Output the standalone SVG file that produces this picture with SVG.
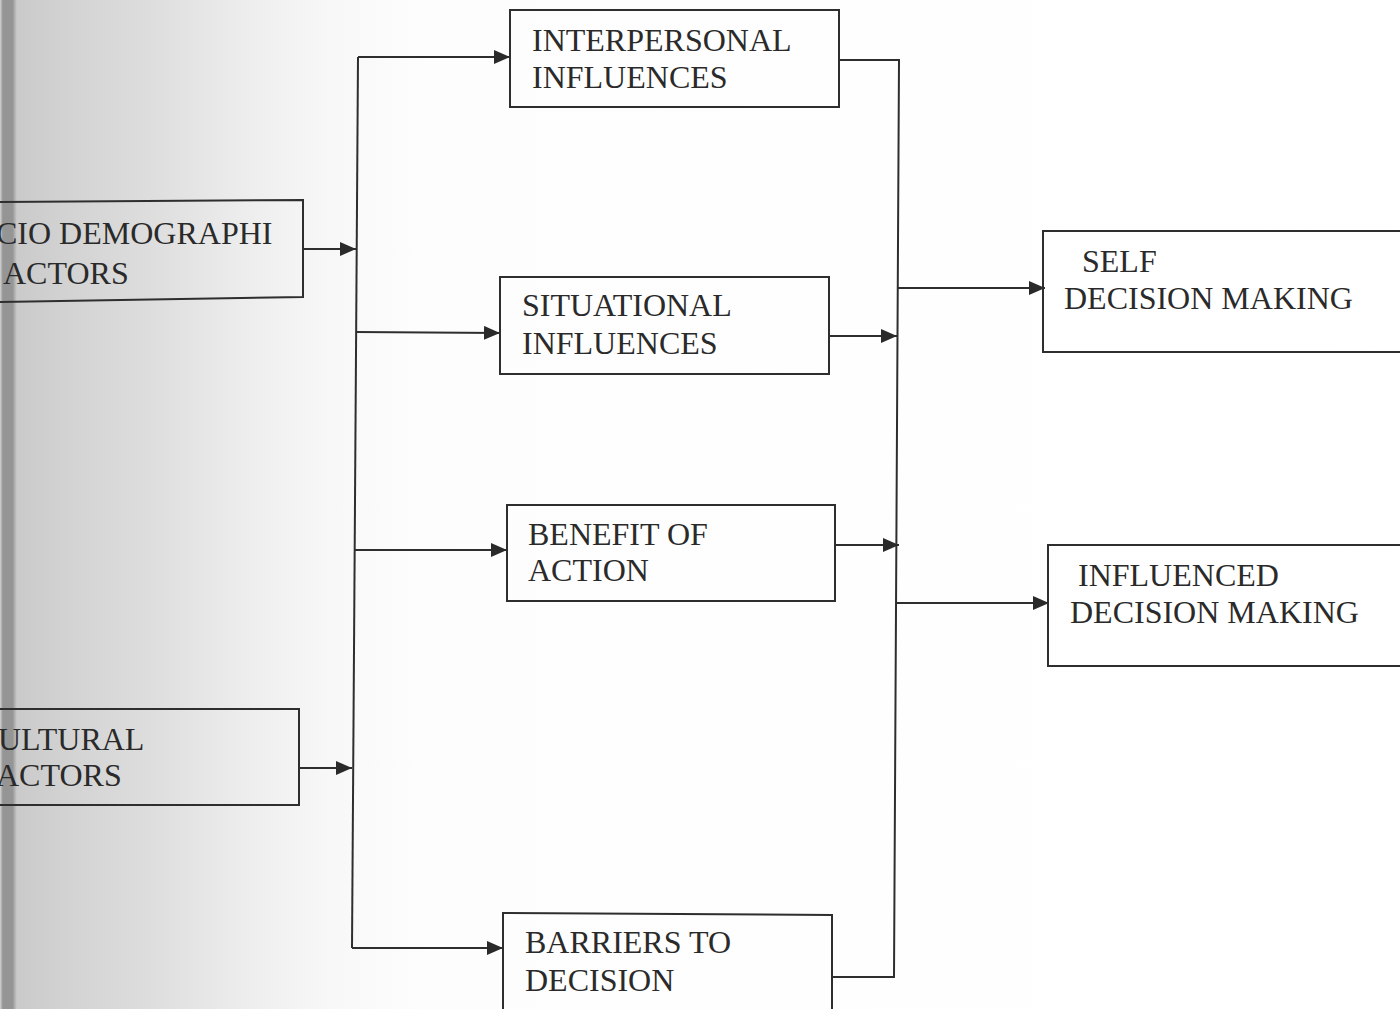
<svg xmlns="http://www.w3.org/2000/svg" width="1400" height="1009" viewBox="0 0 1400 1009">
<style>
.box{fill:none;stroke:#2e2e2e;stroke-width:2}
.lbl{font-family:'Liberation Serif','DejaVu Serif',serif;font-size:32px;fill:#2a2a2a}
.ln{fill:none;stroke:#2e2e2e;stroke-width:2}
</style>
<defs>
<linearGradient id="bg" gradientUnits="userSpaceOnUse" x1="0" y1="0" x2="1400" y2="0">
<stop offset="0" stop-color="#d4d4d4"/>
<stop offset="0.002" stop-color="#959595"/>
<stop offset="0.009" stop-color="#959595"/>
<stop offset="0.012" stop-color="#cacaca"/>
<stop offset="0.05" stop-color="#d3d3d3"/>
<stop offset="0.11" stop-color="#dedede"/>
<stop offset="0.17" stop-color="#ececec"/>
<stop offset="0.23" stop-color="#f7f7f7"/>
<stop offset="0.3" stop-color="#fdfdfd"/>
<stop offset="1" stop-color="#ffffff"/>
</linearGradient>
<marker id="ah" viewBox="0 0 16 14" markerWidth="16" markerHeight="14" refX="16" refY="7" orient="auto" markerUnits="userSpaceOnUse">
<path d="M0,0 L16,7 L0,14 z" fill="#2a2a2a"/>
</marker>
</defs>
<rect x="0" y="0" width="1400" height="1009" fill="url(#bg)"/>

<g id="connectors">
<path class="ln" d="M358,57 L352,948"/>
<path class="ln" d="M303,249 L356,249" marker-end="url(#ah)"/>
<path class="ln" d="M299,768 L352,768" marker-end="url(#ah)"/>
<path class="ln" d="M358,57 L510,57" marker-end="url(#ah)"/>
<path class="ln" d="M356,332 L500,333" marker-end="url(#ah)"/>
<path class="ln" d="M355,550 L507,550" marker-end="url(#ah)"/>
<path class="ln" d="M352,948 L503,948" marker-end="url(#ah)"/>
<path class="ln" d="M839,60 L899,60 L894,977 L832,977"/>
<path class="ln" d="M829,336 L897,336" marker-end="url(#ah)"/>
<path class="ln" d="M835,545 L899,545" marker-end="url(#ah)"/>
<path class="ln" d="M898,288 L1045,288" marker-end="url(#ah)"/>
<path class="ln" d="M896,603 L1049,603" marker-end="url(#ah)"/>
</g>

<g id="socio">
<path class="box" d="M-5,202 L303,200 L303,297 L-5,302"/>
<text class="lbl" font-family="Liberation Serif, serif" x="-4" y="244">CIO DEMOGRAPHI</text>
<text class="lbl" font-family="Liberation Serif, serif" x="3" y="284">ACTORS</text>
</g>
<g id="cultural">
<path class="box" d="M-5,709 L299,709 L299,805 L-5,805"/>
<text class="lbl" font-family="Liberation Serif, serif" x="-2" y="750">ULTURAL</text>
<text class="lbl" font-family="Liberation Serif, serif" x="-4" y="786">ACTORS</text>
</g>
<g id="interpersonal">
<rect class="box" x="510" y="10" width="329" height="97"/>
<text class="lbl" font-family="Liberation Serif, serif" x="532" y="51">INTERPERSONAL</text>
<text class="lbl" font-family="Liberation Serif, serif" x="532" y="88">INFLUENCES</text>
</g>
<g id="situational">
<rect class="box" x="500" y="277" width="329" height="97"/>
<text class="lbl" font-family="Liberation Serif, serif" x="522" y="316">SITUATIONAL</text>
<text class="lbl" font-family="Liberation Serif, serif" x="522" y="354">INFLUENCES</text>
</g>
<g id="benefit">
<rect class="box" x="507" y="505" width="328" height="96"/>
<text class="lbl" font-family="Liberation Serif, serif" x="528" y="545">BENEFIT OF</text>
<text class="lbl" font-family="Liberation Serif, serif" x="528" y="581">ACTION</text>
</g>
<g id="barriers">
<path class="box" d="M503,1012 L503,913 L832,915 L832,1012"/>
<text class="lbl" font-family="Liberation Serif, serif" x="525" y="953">BARRIERS TO</text>
<text class="lbl" font-family="Liberation Serif, serif" x="525" y="991">DECISION</text>
</g>
<g id="self">
<path class="box" d="M1405,231 L1043,231 L1043,352 L1405,352"/>
<text class="lbl" font-family="Liberation Serif, serif" x="1082" y="272">SELF</text>
<text class="lbl" font-family="Liberation Serif, serif" x="1064" y="309">DECISION MAKING</text>
</g>
<g id="influenced">
<path class="box" d="M1405,545 L1048,545 L1048,666 L1405,666"/>
<text class="lbl" font-family="Liberation Serif, serif" x="1078" y="586">INFLUENCED</text>
<text class="lbl" font-family="Liberation Serif, serif" x="1070" y="623">DECISION MAKING</text>
</g>
</svg>
